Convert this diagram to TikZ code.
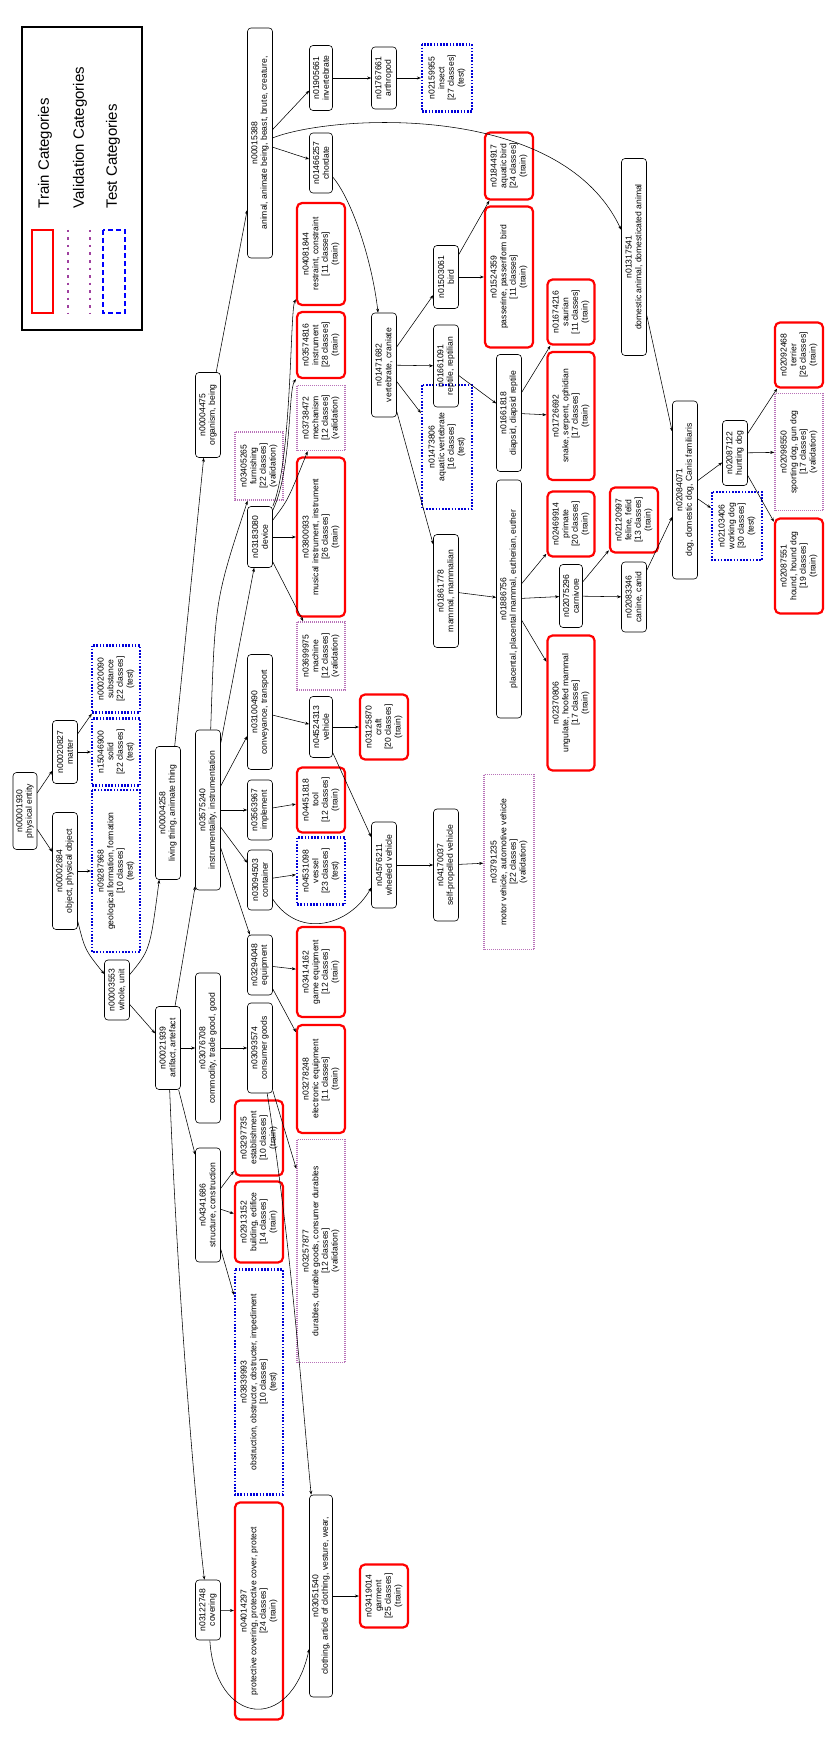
\documentclass[tikz,border=0pt]{standalone}
\usepackage{fontspec}
\setmainfont{Liberation Sans}
\usetikzlibrary{arrows.meta}
\begin{document}
\begin{tikzpicture}[x=1pt,y=-1pt,
  base/.style={rotate=90,align=center,inner sep=0pt,font=\fontsize{8.6}{9.6}\selectfont},
  plain/.style={base,draw,line width=0.6pt,rounded corners=3.5pt},
  train/.style={base,draw=red,line width=2.2pt,rounded corners=5pt},
  val/.style={base,draw=violet!55,line width=1.5pt,dash pattern=on 0.8pt off 1.2pt},
  test/.style={base,draw=blue!85!black,line width=2.2pt,dash pattern=on 1.6pt off 1.6pt},
  e/.style={line width=0.55pt,-{Stealth[length=4pt,width=3pt]}}]
\useasboundingbox (0,0) rectangle (831,1744);
\newcommand\mynode[7]{\node[#6,minimum width=#4,minimum height=#5] (#1) at (#2,#3) {#7};}
% legend
\draw[line width=1.6pt] (22,27) rectangle (142,330);
\draw[red,line width=2.2pt] (32,230) rectangle (53,313);
\draw[violet!75,line width=2.4pt,dash pattern=on 2.5pt off 5pt] (68,230) -- (68,313) (90,230) -- (90,313);
\draw[blue,line width=2.2pt,dash pattern=on 5pt off 3pt] (103,230) rectangle (125,313);
\node[rotate=90,anchor=west,font=\fontsize{15}{17}\selectfont] (l1) at (45,212) {Train Categories};
\node[rotate=90,anchor=west,font=\fontsize{15}{17}\selectfont] (l2) at (80,212) {Validation Categories};
\node[rotate=90,anchor=west,font=\fontsize{15}{17}\selectfont] (l3) at (113,212) {Test Categories};
% nodes
\mynode{pe}{25}{811}{77}{24}{plain}{n00001930\\physical entity}
\mynode{obj}{65}{871}{117}{25}{plain}{n00002684\\object, physical object}
\mynode{mat}{65}{752}{63}{25}{plain}{n00020827\\matter}
\mynode{geo}{116}{871}{162}{48}{test}{n09287968\\geological formation, formation\\{}[10 classes]\\(test)}
\mynode{sol}{116}{752}{67}{48}{test}{n15046900\\solid\\{}[22 classes]\\(test)}
\mynode{sub}{116}{679}{67}{48}{test}{n00020090\\substance\\{}[22 classes]\\(test)}
\mynode{whole}{117}{990}{60}{25}{plain}{n00003553\\whole, unit}
\mynode{liv}{168}{813}{133}{25}{plain}{n00004258\\living thing, animate thing}
\mynode{art}{168}{1048}{83}{25}{plain}{n00021939\\artifact, artefact}
\mynode{org}{208}{415}{85}{25}{plain}{n00004475\\organism, being}
\mynode{instr}{208}{810}{160}{25}{plain}{n03575240\\instrumentality, instrumentation}
\mynode{comm}{208}{1048}{150}{25}{plain}{n03076708\\commodity, trade good, good}
\mynode{struc}{208}{1205}{114}{25}{plain}{n04341686\\structure, construction}
\mynode{cov}{208}{1610}{60}{25}{plain}{n03122748\\covering}
\mynode{animal}{260}{143}{230}{25}{plain}{n00015388\\animal, animate being, beast, brute, creature,}
\mynode{dev}{260}{537}{61}{25}{plain}{n03183080\\device}
\mynode{conv}{260}{712}{115}{25}{plain}{n03100490\\conveyance, transport}
\mynode{impl}{260}{810}{60}{25}{plain}{n03563967\\implement}
\mynode{cont}{260}{880}{60}{25}{plain}{n03094503\\container}
\mynode{equip}{260}{965}{60}{25}{plain}{n03294048\\equipment}
\mynode{cons}{260}{1048}{90}{25}{plain}{n03093574\\consumer goods}
\mynode{furn}{259}{466}{68}{48}{val}{n03405265\\furnishing\\{}[22 classes]\\(validation)}
\mynode{estab}{259}{1138}{75}{48}{train}{n03297735\\establishment\\{}[10 classes]\\(train)}
\mynode{build}{259}{1222}{81}{48}{train}{n02913152\\building, edifice\\{}[14 classes]\\(train)}
\mynode{obst}{259}{1382}{225}{48}{test}{n03839993\\obstruction, obstructor, obstructer, impediment\\{}[10 classes]\\(test)}
\mynode{prot}{259}{1611}{217}{48}{train}{n04014297\\protective covering, protective cover, protect\\{}[24 classes]\\(train)}
\mynode{restr}{321}{254}{102}{48}{train}{n04081844\\restraint, constraint\\{}[11 classes]\\(train)}
\mynode{inst}{321}{345}{66}{48}{train}{n03574816\\instrument\\{}[28 classes]\\(train)}
\mynode{mech}{321}{418}{65}{48}{val}{n03738472\\mechanism\\{}[12 classes]\\(validation)}
\mynode{mus}{321}{537}{159}{48}{train}{n03800933\\musical instrument, instrument\\{}[26 classes]\\(train)}
\mynode{mach}{321}{656}{68}{48}{val}{n03699975\\machine\\{}[12 classes]\\(validation)}
\mynode{veh}{321}{727}{61}{23}{plain}{n04524313\\vehicle}
\mynode{tool}{321}{800}{65}{48}{train}{n04451818\\tool\\{}[12 classes]\\(train)}
\mynode{vessel}{321}{871}{67}{48}{test}{n04531098\\vessel\\{}[23 classes]\\(test)}
\mynode{game}{321}{972}{90}{48}{train}{n03414162\\game equipment\\{}[12 classes]\\(train)}
\mynode{elec}{321}{1079}{108}{48}{train}{n03278248\\electronic equipment\\{}[11 classes]\\(train)}
\mynode{dur}{321}{1251}{223}{48}{val}{n03257877\\durables, durable goods, consumer durables\\{}[12 classes]\\(validation)}
\mynode{cloth}{321}{1596}{202}{23}{plain}{n03051540\\clothing, article of clothing, vesture, wear,}
\mynode{craft}{384}{727}{65}{48}{train}{n03125870\\craft\\{}[20 classes]\\(train)}
\mynode{wheel}{384}{865}{86}{25}{plain}{n04576211\\wheeled vehicle}
\mynode{garm}{384}{1596}{63}{48}{train}{n03419014\\garment\\{}[25 classes]\\(train)}
\mynode{chord}{321}{163}{60}{23}{plain}{n01466257\\chordate}
\mynode{inv}{321}{78}{65}{23}{plain}{n01905661\\invertebrate}
\mynode{arth}{384}{78}{62}{25}{plain}{n01767661\\arthropod}
\mynode{insect}{447}{78}{67}{50}{test}{n02159955\\insect\\{}[27 classes]\\(test)}
\mynode{vert}{384}{365}{104}{25}{plain}{n01471682\\vertebrate, craniate}
\mynode{aqv}{447}{447}{124}{50}{test}{n01473806\\aquatic vertebrate\\{}[16 classes]\\(test)}
\mynode{mam}{446}{591}{113}{25}{plain}{n01861778\\mammal, mammalian}
\mynode{rep}{446}{366}{82}{25}{plain}{n01661091\\reptile, reptilian}
\mynode{bird}{446}{277}{63}{25}{plain}{n01503061\\bird}
\mynode{pass}{509}{277}{141}{48}{train}{n01524359\\passerine, passeriform bird\\{}[11 classes]\\(train)}
\mynode{aqb}{509}{166}{67}{48}{train}{n01844917\\aquatic bird\\{}[24 classes]\\(train)}
\mynode{diap}{509}{413}{117}{25}{plain}{n01661818\\diapsid, diapsid reptile}
\mynode{plac}{509}{599}{238}{25}{plain}{n01886756\\placental, placental mammal, eutherian, euther}
\mynode{saur}{571}{312}{65}{47}{train}{n01674216\\saurian\\{}[11 classes]\\(train)}
\mynode{snake}{571}{416}{128}{47}{train}{n01726692\\snake, serpent, ophidian\\{}[17 classes]\\(train)}
\mynode{prim}{571}{524}{65}{47}{train}{n02469914\\primate\\{}[20 classes]\\(train)}
\mynode{carn}{571}{596}{63}{23}{plain}{n02075296\\carnivore}
\mynode{ung}{571}{703}{135}{47}{train}{n02370806\\ungulate, hoofed mammal\\{}[17 classes]\\(train)}
\mynode{dom}{634}{257}{197}{25}{plain}{n01317541\\domestic animal, domesticated animal}
\mynode{fel}{634}{520}{65}{48}{train}{n02120997\\feline, felid\\{}[13 classes]\\(train)}
\mynode{can}{634}{597}{70}{25}{plain}{n02083346\\canine, canid}
\mynode{dog}{685}{490}{178}{25}{plain}{n02084071\\dog, domestic dog, Canis familiaris}
\mynode{work}{737}{526}{68}{50}{test}{n02103406\\working dog\\{}[30 classes]\\(test)}
\mynode{hunt}{735}{453}{65}{25}{plain}{n02087122\\hunting dog}
\mynode{terr}{799}{355}{65}{48}{train}{n02092468\\terrier\\{}[26 classes]\\(train)}
\mynode{sport}{799}{452}{117}{48}{val}{n02098550\\sporting dog, gun dog\\{}[17 classes]\\(validation)}
\mynode{hound}{799}{566}{95}{48}{train}{n02087551\\hound, hound dog\\{}[19 classes]\\(train)}
\mynode{self}{446}{865}{112}{25}{plain}{n04170037\\self-propelled vehicle}
\mynode{motor}{509}{862}{175}{50}{val}{n03791235\\motor vehicle, automotive vehicle\\{}[22 classes]\\(validation)}
% edges
\draw[e] (pe) -- (obj);
\draw[e] (pe) -- (mat);
\draw[e] (obj) -- (geo);
\draw[e] (obj) .. controls (85,950) .. (whole);
\draw[e] (mat) -- (sol);
\draw[e] (mat) -- (sub);
\draw[e] (whole) .. controls (150,950) .. (liv);
\draw[e] (whole) -- (art);
\draw[e] (liv) -- (org);
\draw[e] (org) -- (animal);
\draw[e] (art) -- (instr);
\draw[e] (art) -- (comm);
\draw[e] (art) -- (struc);
\draw[e] (art) .. controls (178,1300) and (195,1500) .. (cov);
\draw[e] (instr) .. controls (215,600) .. (furn);
\draw[e] (instr) -- (dev);
\draw[e] (instr) -- (conv);
\draw[e] (instr) -- (impl);
\draw[e] (instr) -- (cont);
\draw[e] (instr) -- (equip);
\draw[e] (dev) .. controls (288,500) .. (mech);
\draw[e] (dev) .. controls (292,470) and (288,390) .. (inst);
\draw[e] (dev) .. controls (292,460) and (290,310) .. (restr);
\draw[e] (dev) -- (mus);
\draw[e] (dev) -- (mach);
\draw[e] (conv) -- (veh);
\draw[e] (veh) -- (craft);
\draw[e] (veh) -- (wheel);
\draw[e] (impl) -- (tool);
\draw[e] (cont) -- (vessel);
\draw[e] (cont) .. controls (300,940) and (350,925) .. (wheel);
\draw[e] (wheel) -- (self);
\draw[e] (self) -- (motor);
\draw[e] (equip) -- (game);
\draw[e] (equip) -- (elec);
\draw[e] (comm) -- (cons);
\draw[e] (cons) -- (dur);
\draw[e] (cons) .. controls (292,1250) and (302,1400) .. (cloth);
\draw[e] (struc) -- (estab);
\draw[e] (struc) -- (build);
\draw[e] (struc) -- (obst);
\draw[e] (cov) -- (prot);
\draw[e] (cov) .. controls (215,1725) and (290,1735) .. (cloth);
\draw[e] (cloth) -- (garm);
\draw[e] (animal) -- (inv);
\draw[e] (animal) -- (chord);
\draw[e] (animal) .. controls (330,115) and (560,100) .. (dom);
\draw[e] (inv) -- (arth);
\draw[e] (arth) -- (insect);
\draw[e] (chord) .. controls (352,200) and (372,260) .. (vert);
\draw[e] (vert) -- (bird);
\draw[e] (vert) -- (rep);
\draw[e] (vert) -- (aqv);
\draw[e] (vert) -- (mam);
\draw[e] (bird) -- (pass);
\draw[e] (bird) -- (aqb);
\draw[e] (rep) -- (diap);
\draw[e] (diap) -- (saur);
\draw[e] (diap) -- (snake);
\draw[e] (mam) -- (plac);
\draw[e] (plac) -- (prim);
\draw[e] (plac) -- (carn);
\draw[e] (plac) -- (ung);
\draw[e] (carn) -- (fel);
\draw[e] (carn) -- (can);
\draw[e] (can) -- (dog);
\draw[e] (dom) -- (dog);
\draw[e] (dog) -- (work);
\draw[e] (dog) -- (hunt);
\draw[e] (hunt) -- (terr);
\draw[e] (hunt) -- (sport);
\draw[e] (hunt) -- (hound);
\end{tikzpicture}
\end{document}
